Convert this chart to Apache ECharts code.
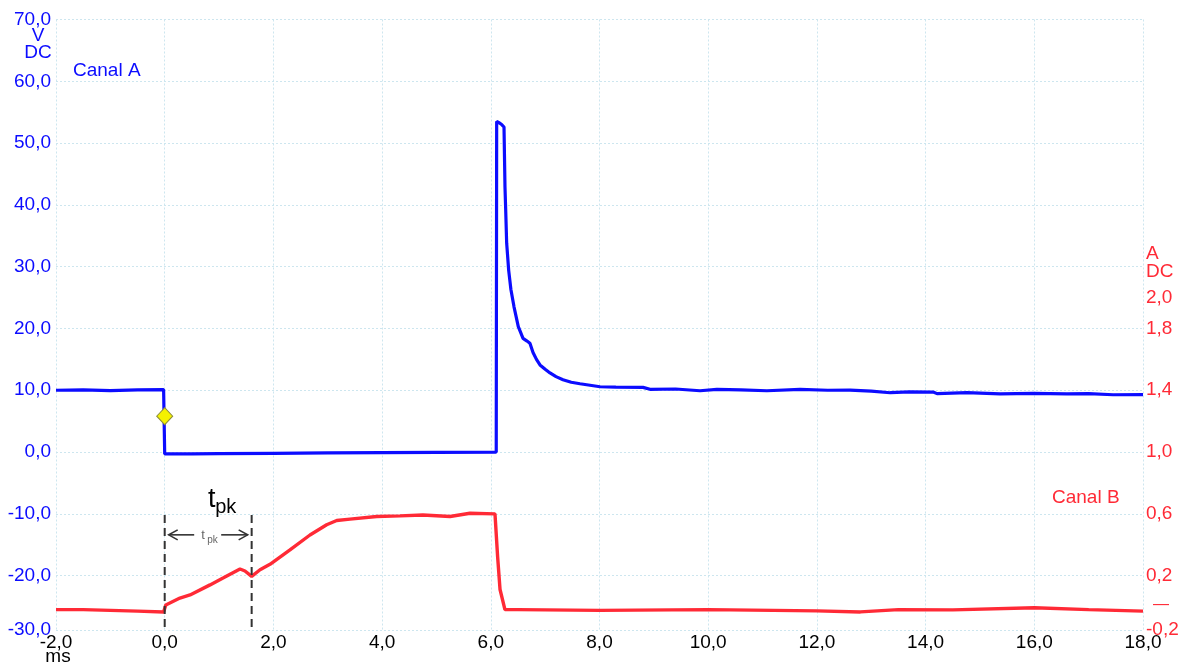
<!DOCTYPE html>
<html>
<head>
<meta charset="utf-8">
<title>Canal A / Canal B</title>
<script src="https://cdn.jsdelivr.net/npm/echarts@6/dist/echarts.min.js"></script>
<style>
  html, body { margin: 0; padding: 0; background: #ffffff; }
  #chart { width: 1184px; height: 663px; }
</style>
</head>
<body>
<div id="chart"></div>
<script>
// Channel A: voltage (V) against time (ms)
const blueTime = [-2.0, -1.5, -1.0, -0.5, -0.02, 0.0, 0.0, 0.5, 1.0, 2.0, 3.0, 4.0, 5.0, 6.1,
  6.108, 6.15, 6.2, 6.243, 6.261, 6.274, 6.292, 6.329, 6.37, 6.427, 6.506, 6.593, 6.66, 6.72,
  6.777, 6.84, 6.905, 7.0, 7.089, 7.2, 7.328, 7.48, 7.641, 8.01, 8.3, 8.8, 8.93, 9.4, 9.85,
  10.16, 10.6, 11.08, 11.69, 12.2, 12.61, 13.0, 13.35, 13.7, 14.14, 14.21, 14.76, 15.37,
  15.98, 16.6, 17.0, 17.45, 18.0];
const blueVolt = [10.0, 10.05, 9.95, 10.05, 10.1, 10.05, -0.3, -0.3, -0.25, -0.2, -0.15, -0.1, -0.05, 0.0,
  53.5, 53.3, 53.0, 52.6, 42.9, 39.2, 33.8, 29.4, 26.3, 23.5, 20.3, 18.4, 18.0, 17.6,
  16.1, 15.0, 14.1, 13.4, 12.8, 12.2, 11.7, 11.3, 11.05, 10.57, 10.5, 10.47, 10.15, 10.2, 9.92,
  10.15, 10.05, 9.92, 10.15, 10.0, 10.03, 9.85, 9.6, 9.75, 9.71, 9.45, 9.6, 9.4,
  9.5, 9.4, 9.45, 9.27, 9.3];

// Channel B: current (A) against time (ms)
const redTime = [-2.0, -1.5, -1.0, -0.5, -0.02, 0.0, 0.02, 0.28, 0.466, 0.834, 1.073, 1.386, 1.477,
  1.6, 1.754, 1.937, 2.305, 2.673, 2.98, 3.165, 3.41, 3.9, 4.33, 4.75, 5.25, 5.617, 6.077,
  6.108, 6.126, 6.17, 6.26, 6.5, 8.0, 10.0, 12.0, 12.8, 13.5, 14.5, 16.0, 17.0, 18.0];
const redAmp = [-0.02, -0.02, -0.025, -0.03, -0.035, -0.03, 0.01, 0.055, 0.075, 0.14, 0.184, 0.243, 0.23,
  0.195, 0.238, 0.273, 0.366, 0.463, 0.529, 0.557, 0.566, 0.583, 0.587, 0.592, 0.583, 0.604, 0.6,
  0.6, 0.32, 0.11, -0.02, -0.02, -0.025, -0.02, -0.028, -0.035, -0.02, -0.022, -0.008, -0.02, -0.03];

// Trigger point and the peak-time cursors (ms)
const triggerPoint = [0.0, 5.8];
const cursorTimes = [0.0, 1.6];

// Axis ranges and tick labels
const timeRange = [-2, 18];
const voltRange = [-28.8, 70];
const ampPerVolt = 1 / 25;            // 0 V on the left scale sits at 1 A on the right scale
const ampRange = [1 + voltRange[0] * ampPerVolt, 1 + voltRange[1] * ampPerVolt];
const ampLabelValues = [0.2, 0.6, 1.0, 1.4, 1.8, 2.0];

const BLUE = '#0c0cff';
const RED = '#ff2a36';
const GRID = '#cde6ef';
const FONT = '"Liberation Sans", Arial, sans-serif';

const fmt = v => v.toFixed(1).replace('.', ',');

const chart = echarts.init(document.getElementById('chart'), null, { renderer: 'canvas' });

const option = {
  animation: false,
  backgroundColor: '#ffffff',
  textStyle: { fontFamily: FONT },
  grid: { left: 56, right: 41, top: 19.5, bottom: 33, containLabel: false },
  xAxis: {
    type: 'value',
    min: timeRange[0], max: timeRange[1], interval: 2,
    axisLine: { show: false }, axisTick: { show: false },
    splitLine: { show: true, lineStyle: { color: GRID, type: [2, 2], width: 1 } },
    axisLabel: { color: '#000', fontSize: 19, fontFamily: FONT, margin: 3, formatter: fmt }
  },
  yAxis: [
    {
      type: 'value', position: 'left',
      min: voltRange[0], max: voltRange[1], splitNumber: 10,
      axisLine: { show: false }, axisTick: { show: false },
      splitLine: { show: true, lineStyle: { color: GRID, type: [2, 2], width: 1 } },
      axisLabel: {
        color: BLUE, fontSize: 19, fontFamily: FONT, margin: 5,
        formatter: v => (v < -25 ? '-30,0' : fmt(v))
      }
    },
    {
      type: 'value', position: 'right',
      min: ampRange[0], max: ampRange[1],
      axisLine: { show: false }, axisTick: { show: false },
      splitLine: { show: false },
      axisLabel: {
        color: RED, fontSize: 19, fontFamily: FONT, margin: 3,
        customValues: [ampRange[0], 0].concat(ampLabelValues),
        formatter: v => {
          if (v < -0.1) return '-0,2';
          if (Math.abs(v) < 1e-9) return '{z|—}';
          return fmt(v);
        },
        rich: { z: { color: RED, fontSize: 16, fontFamily: FONT, padding: [0, 0, 4, 7] } }
      }
    }
  ],
  series: [
    {
      name: 'Canal A', type: 'line', yAxisIndex: 0,
      data: blueTime.map((t, i) => [t, blueVolt[i]]),
      showSymbol: false, symbol: 'none',
      lineStyle: { color: BLUE, width: 3.2 }, z: 3
    },
    {
      name: 'Canal B', type: 'line', yAxisIndex: 1,
      data: redTime.map((t, i) => [t, redAmp[i]]),
      showSymbol: false, symbol: 'none',
      lineStyle: { color: RED, width: 3.4 }, z: 3
    },
    {
      name: 'Trigger', type: 'scatter', yAxisIndex: 0,
      data: [triggerPoint],
      symbol: 'diamond', symbolSize: [16, 17],
      itemStyle: { color: '#f4f200', borderColor: '#8c8c3a', borderWidth: 1, opacity: 1 },
      z: 5
    }
  ]
};

chart.setOption(option);

// Annotations placed from data coordinates
const px = (t, v) => chart.convertToPixel({ xAxisIndex: 0, yAxisIndex: 0 }, [t, v]);
const g = [];

// axis units and channel names
g.push({ type: 'text', style: { text: 'V', x: 38, y: 36, align: 'center', verticalAlign: 'middle', fill: BLUE, font: '19px ' + FONT } });
g.push({ type: 'text', style: { text: 'DC', x: 38, y: 53, align: 'center', verticalAlign: 'middle', fill: BLUE, font: '19px ' + FONT } });
g.push({ type: 'text', style: { text: 'Canal A', x: 73, y: 71, align: 'left', verticalAlign: 'middle', fill: BLUE, font: '19px ' + FONT } });
g.push({ type: 'text', style: { text: 'A', x: 1146, y: 254, align: 'left', verticalAlign: 'middle', fill: RED, font: '19px ' + FONT } });
g.push({ type: 'text', style: { text: 'DC', x: 1146, y: 272, align: 'left', verticalAlign: 'middle', fill: RED, font: '19px ' + FONT } });
g.push({ type: 'text', style: { text: 'Canal B', x: 1052, y: 498, align: 'left', verticalAlign: 'middle', fill: RED, font: '19px ' + FONT } });
g.push({ type: 'text', style: { text: 'ms', x: 58, y: 657, align: 'center', verticalAlign: 'middle', fill: '#000', font: '19px ' + FONT } });

// peak-time cursors
const cTop = -10.2, cArrow = -13.4;
const p0 = px(cursorTimes[0], cTop), p1 = px(cursorTimes[1], cTop);
const pb = px(cursorTimes[0], voltRange[0]);
const pa = px(cursorTimes[0], cArrow);
[p0, p1].forEach(p => {
  g.push({ type: 'line', shape: { x1: p[0], y1: p[1], x2: p[0], y2: pb[1] },
    style: { stroke: '#333', lineWidth: 2, lineDash: [8, 5] }, z: 10 });
});
const xa = p0[0], xb = p1[0], ya = pa[1], mid = (xa + xb) / 2;
const ARW = '#333';
// left arrow
g.push({ type: 'polyline', shape: { points: [[xa + 4 + 9, ya - 5], [xa + 4, ya], [xa + 4 + 9, ya + 5]] }, style: { stroke: ARW, lineWidth: 1.6, fill: null }, z: 10 });
g.push({ type: 'line', shape: { x1: xa + 4, y1: ya, x2: mid - 14, y2: ya }, style: { stroke: ARW, lineWidth: 1.6 }, z: 10 });
// right arrow
g.push({ type: 'polyline', shape: { points: [[xb - 4 - 9, ya - 5], [xb - 4, ya], [xb - 4 - 9, ya + 5]] }, style: { stroke: ARW, lineWidth: 1.6, fill: null }, z: 10 });
g.push({ type: 'line', shape: { x1: mid + 13, y1: ya, x2: xb - 4, y2: ya }, style: { stroke: ARW, lineWidth: 1.6 }, z: 10 });
// small label between the arrows
g.push({ type: 'text', style: { text: 't', x: mid - 5, y: ya + 1, align: 'center', verticalAlign: 'middle', fill: '#666', font: '13px ' + FONT }, z: 10 });
g.push({ type: 'text', style: { text: 'pk', x: mid - 1, y: ya + 5, align: 'left', verticalAlign: 'middle', fill: '#666', font: '10px ' + FONT }, z: 10 });
// large label above
g.push({ type: 'text', style: { text: 't', x: mid + 3.5, y: 500, align: 'center', verticalAlign: 'middle', fill: '#000', font: '27px ' + FONT }, z: 10 });
g.push({ type: 'text', style: { text: 'pk', x: mid + 7, y: 507, align: 'left', verticalAlign: 'middle', fill: '#000', font: '20px ' + FONT }, z: 10 });

chart.setOption({ graphic: g });
</script>
</body>
</html>
